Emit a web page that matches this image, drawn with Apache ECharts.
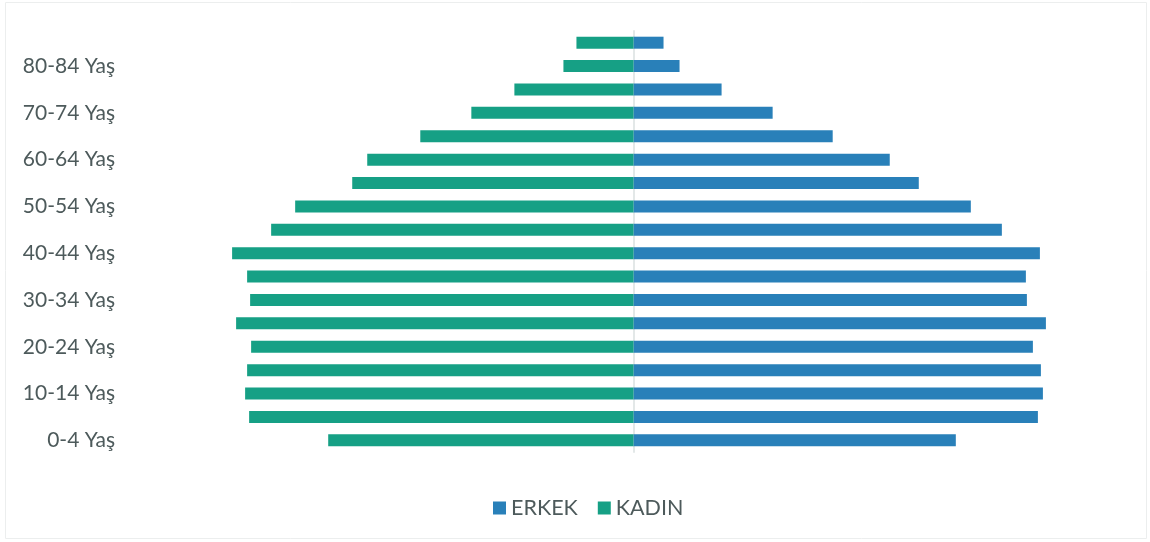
<!DOCTYPE html>
<html><head><meta charset="utf-8">
<script src="https://cdn.jsdelivr.net/npm/echarts@6/dist/echarts.min.js"></script>
<style>html,body{margin:0;padding:0;background:#fff}#c{width:1150px;height:542px}</style>
</head><body><div id="c"></div>
<script>
var categories = ['0-4 Yaş','5-9 Yaş','10-14 Yaş','15-19 Yaş','20-24 Yaş','25-29 Yaş','30-34 Yaş','35-39 Yaş','40-44 Yaş','45-49 Yaş','50-54 Yaş','55-59 Yaş','60-64 Yaş','65-69 Yaş','70-74 Yaş','75-79 Yaş','80-84 Yaş','85+ Yaş'];
var erkek = [322,404,409,407,399,412,393,392,406,368,337,285,256,199,139,88,46,30];
var kadin = [305,384,388,386,382,397,383,386,401,362,338,281,266,213,162,119,70,57];

var chart = echarts.init(document.getElementById('c'));
chart.setOption({
  animation:false,
  graphic:[{type:'rect',shape:{x:5.5,y:2.5,width:1141,height:536},style:{fill:'none',stroke:'#eceeee',lineWidth:1},silent:true}],
  legend:{left:488,top:492,itemWidth:13,itemHeight:13,itemGap:20,icon:'rect',
    textStyle:{fontFamily:'Lato',fontSize:21.5,color:'#4d5a5b'},data:['ERKEK','KADIN']},
  grid:{left:125,right:8,top:31,bottom:90,containLabel:false},
  xAxis:{type:'value',min:-508,max:508,show:false},
  yAxis:{type:'category',data:categories,
    axisLine:{show:true,onZero:true,lineStyle:{color:'#e3e8e8',width:2}},
    axisTick:{show:false},
    axisLabel:{interval:1,margin:10,fontFamily:'Lato',fontSize:21,color:'#4d5a5b'}},
  series:[
    {name:'ERKEK',type:'bar',stack:'p',barWidth:12,data:erkek,itemStyle:{color:'#2980b9'}},
    {name:'KADIN',type:'bar',stack:'p',barWidth:12,data:kadin.map(function(v){return -v;}),itemStyle:{color:'#16a085'}}
  ]
});
</script></body></html>
